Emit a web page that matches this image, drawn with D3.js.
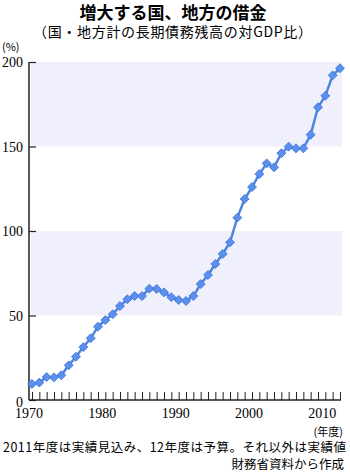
<!DOCTYPE html>
<html>
<head>
<meta charset="utf-8">
<script src="https://cdn.jsdelivr.net/npm/d3@7"></script>
<style>
  html, body { margin: 0; padding: 0; background: #fff; }
  svg { display: block; }
</style>
</head>
<body>
<div id="chart"></div>
<script>
// data (fiscal year, % of GDP)
const years = d3.range(1970, 2013);
const debtRatio = [
  9.5, 10.3, 13.6, 13.4, 14.6, 20.5, 25.6, 31.3, 36.5, 43.4,
  47.3, 50.7, 55.6, 59.6, 61.5, 61.5, 65.9, 65.7, 63.7, 60.8,
  59.2, 58.6, 61.5, 68.6, 74.0, 80.5, 86.4, 93.3, 107.9, 118.9,
  126.0, 133.7, 140.0, 137.7, 146.0, 149.9, 148.9, 148.9, 157.0, 173.2,
  180.0, 192.1, 196.3
];
const yTicks = [0, 50, 100, 150, 200];
const xTicks = [1970, 1980, 1990, 2000, 2010];
const bands = [[50, 100], [150, 200]];

const titleText = "増大する国、地方の借金";
const subtitleText = "（国・地方計の長期債務残高の対GDP比）";
const noteLines = [
  "2011年度は実績見込み、12年度は予算。それ以外は実績値",
  "財務省資料から作成"
];

const width = 350, height = 476;
const jpFont = "'Noto Sans CJK JP', sans-serif";
const numFont = "'Liberation Serif', 'DejaVu Serif', serif";

const svg = d3.select("#chart").append("svg")
    .attr("width", width)
    .attr("height", height);

const x = d3.scaleLinear().domain([1970, 2012]).range([32, 340]);
const y = d3.scaleLinear().domain([0, 200]).range([400, 62]);

// shaded bands
svg.selectAll(".band")
    .data(bands)
    .enter().append("rect")
    .attr("class", "band")
    .attr("x", 31)
    .attr("width", 342 - 31)
    .attr("y", d => y(d[1]))
    .attr("height", d => y(d[0]) - y(d[1]))
    .style("fill", "#eff0fb");

// title block
svg.append("text")
    .attr("x", 173).attr("y", 19)
    .attr("text-anchor", "middle")
    .style("font-family", jpFont)
    .style("font-weight", "bold")
    .style("font-size", "17px")
    .text(titleText);

svg.append("text")
    .attr("x", 33).attr("y", 37)
    .style("font-family", jpFont)
    .style("font-size", "14px")
    .attr("textLength", 279)
    .attr("lengthAdjust", "spacing")
    .text(subtitleText);

svg.append("text")
    .attr("x", 2).attr("y", 51)
    .style("font-family", jpFont)
    .style("font-size", "11px")
    .text("(%)");

// y axis
const yAxis = svg.append("g")
    .attr("transform", "translate(29,0)")
    .call(d3.axisRight(y).tickValues(yTicks).tickSize(7).tickFormat(""));
yAxis.select(".domain").remove();
yAxis.selectAll("line").style("stroke", "#222").style("stroke-width", 1.2);

svg.append("line")
    .attr("x1", 29).attr("x2", 29)
    .attr("y1", y(200)).attr("y2", y(0))
    .style("stroke", "#222").style("stroke-width", 1.5);

svg.selectAll(".ylab")
    .data(yTicks)
    .enter().append("text")
    .attr("class", "ylab")
    .attr("x", 23)
    .attr("y", d => y(d) + (d === 0 ? 7 : 5))
    .attr("text-anchor", "end")
    .style("font-family", numFont)
    .style("font-size", "14px")
    .text(d => d);

// x axis with yearly ticks pointing up
const xAxis = svg.append("g")
    .attr("transform", `translate(0,${y(0)})`)
    .call(d3.axisTop(x).tickValues(years).tickSize(8).tickFormat("").tickSizeOuter(0));
xAxis.select(".domain").attr("d", `M29,0H341`).style("stroke", "#222").style("stroke-width", 1.5);
xAxis.selectAll("line").style("stroke", "#222");

svg.selectAll(".xlab")
    .data(xTicks)
    .enter().append("text")
    .attr("class", "xlab")
    .attr("x", d => x(d) - 3)
    .attr("y", 418)
    .attr("text-anchor", "middle")
    .style("font-family", numFont)
    .style("font-size", "14px")
    .text(d => d);

svg.append("text")
    .attr("x", 343).attr("y", 436)
    .attr("text-anchor", "end")
    .style("font-family", jpFont)
    .style("font-size", "11px")
    .text("(年度)");

// data line
const line = d3.line()
    .x((d, i) => x(years[i]))
    .y(d => y(d));

svg.append("path")
    .datum(debtRatio)
    .attr("d", line)
    .style("fill", "none")
    .style("stroke", "#4f84e0")
    .style("stroke-width", 2.5);

const diamond = d3.symbol().type(d3.symbolSquare).size(40);
svg.selectAll(".pt")
    .data(debtRatio)
    .enter().append("path")
    .attr("class", "pt")
    .attr("d", diamond)
    .attr("transform", (d, i) => `translate(${x(years[i])},${y(d)}) rotate(45)`)
    .style("fill", "#5b90ef")
    .style("stroke", "#3f74d4")
    .style("stroke-width", 0.8);

// footnotes
svg.append("text")
    .attr("x", 3).attr("y", 452)
    .style("font-family", jpFont)
    .style("font-size", "12.5px")
    .attr("textLength", 343)
    .text(noteLines[0]);

svg.append("text")
    .attr("x", 344).attr("y", 469)
    .attr("text-anchor", "end")
    .style("font-family", jpFont)
    .style("font-size", "12.5px")
    .text(noteLines[1]);
</script>
</body>
</html>
